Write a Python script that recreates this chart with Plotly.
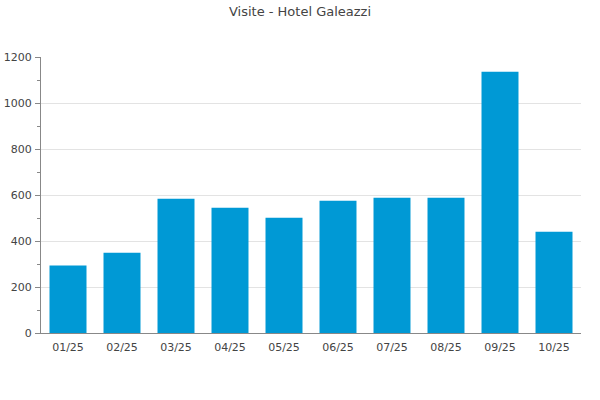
import plotly.graph_objects as go

months = ["01/25", "02/25", "03/25", "04/25", "05/25", "06/25", "07/25", "08/25", "09/25", "10/25"]
visits = [293, 349, 584, 545, 501, 575, 588, 588, 1136, 440]
y_ticks = [0, 200, 400, 600, 800, 1000, 1200]

fig = go.Figure(go.Bar(x=months, y=visits, marker=dict(color="#0099d5", line=dict(width=0))))

fig.update_layout(
    width=600, height=400,
    margin=dict(l=41, r=19, t=57, b=67),
    paper_bgcolor="white", plot_bgcolor="white",
    font=dict(family="DejaVu Sans", size=11, color="#444444"),
    title=dict(text="Visite - Hotel Galeazzi", x=0.5, xanchor="center", y=0.982, yanchor="top",
               font=dict(family="DejaVu Sans", size=13, color="#444444")),
    bargap=0.315,
    showlegend=False,
)
fig.update_xaxes(showline=True, linecolor="#888888", linewidth=1, ticks="", showgrid=False,
                 automargin=False, ticklabelstandoff=4,
                 tickfont=dict(size=11, color="#444444"))
fig.update_yaxes(range=[0, 1200], tickvals=y_ticks, showline=True, linecolor="#888888", linewidth=1,
                 ticks="outside", ticklen=5, tickcolor="#888888", gridcolor="#e3e3e3",
                 zeroline=False, automargin=False, ticklabelstandoff=1,
                 tickfont=dict(size=11, color="#444444"),
                 minor=dict(dtick=100, ticks="outside", ticklen=3, tickcolor="#888888", showgrid=False))

fig.write_html("out.html", config={"displayModeBar": False},
               post_script="document.body.style.margin='0';")
